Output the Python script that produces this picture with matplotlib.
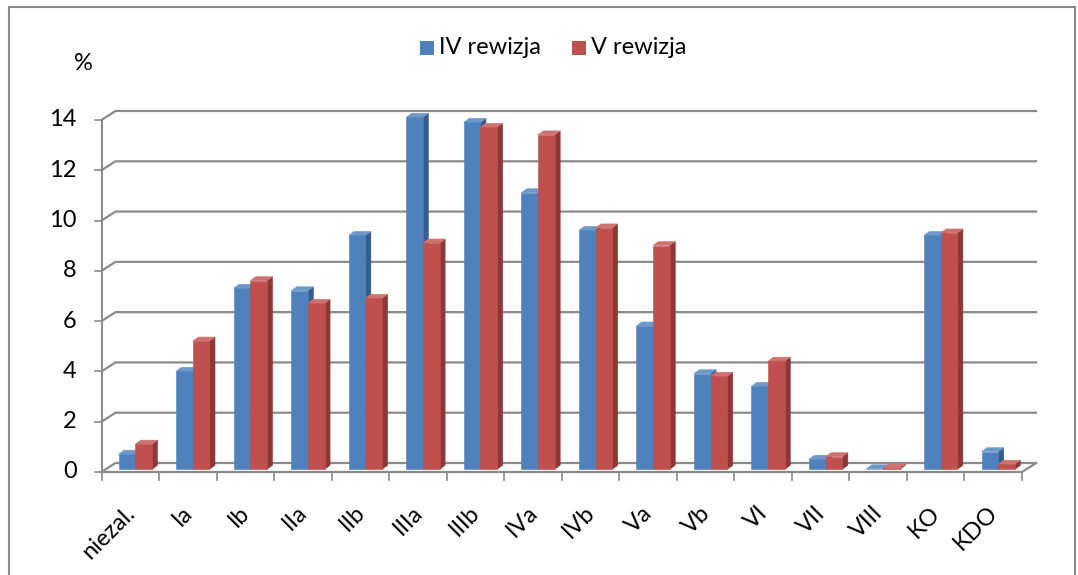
import matplotlib
matplotlib.use("Agg")
import numpy as np
import matplotlib.pyplot as plt
from matplotlib.patches import Polygon, Rectangle

plt.rcParams["font.family"] = ["Lato", "DejaVu Sans"]

categories = ["niezal.", "Ia", "Ib", "IIa", "IIb", "IIIa", "IIIb", "IVa",
              "IVb", "Va", "Vb", "VI", "VII", "VIII", "KO", "KDO"]
rew_iv = [0.6, 3.9, 7.2, 7.1, 9.3, 14.0, 13.8, 11.0,
          9.5, 5.7, 3.8, 3.3, 0.4, 0.02, 9.3, 0.7]
rew_v = [1.0, 5.1, 7.5, 6.6, 6.8, 9.0, 13.6, 13.3,
         9.6, 8.9, 3.7, 4.3, 0.5, 0.05, 9.4, 0.2]
series_names = ["IV rewizja", "V rewizja"]
yticks = [0, 2, 4, 6, 8, 10, 12, 14]

W, H = 1078, 575
fig = plt.figure(figsize=(W / 100, H / 100), dpi=100)


def fx(px):
    return px / W


def fy(py):
    return 1 - py / H


# axes: front x axis 101.5..1022 px, y 0 at 472 px, 14 at 120 px
x0px, x1px, y0px, y1px = 101.5, 1022, 472, 120
ax = fig.add_axes([fx(x0px), fy(y0px), fx(x1px) - fx(x0px), fy(y1px) - fy(y0px)])
n = len(categories)
ax.set_xlim(-0.5, n - 0.5)
ax.set_ylim(0, 14)
ax.axis("off")

cx = (x1px - x0px) / n   # px per category
cy = (y0px - y1px) / 14  # px per unit
DX, DY = 14 / cx, 9 / cy   # wall depth
grid_c = "#8a8a8a"

# gridlines on side and back wall
for v in yticks:
    ax.plot([-0.5, -0.5 + DX, n - 0.5 + DX], [v, v + DY, v + DY],
            color=grid_c, lw=1.6, clip_on=False, zorder=1)
    ax.plot([-0.5 - 7 / cx, -0.5], [v, v], color=grid_c, lw=1.2, clip_on=False)
    ax.text(-0.5 - 25 / cx, v, str(v), ha="right", va="center", fontsize=17,
            color="black")

# floor front edge and right side
ax.plot([-0.5, n - 0.5, n - 0.5 + DX], [0, 0, DY], color=grid_c, lw=1.6,
        clip_on=False, zorder=1)
ax.plot([-0.5, -0.5], [0, 14], color=grid_c, lw=1.4, clip_on=False, zorder=1)
for k in range(n + 1):
    ax.plot([k - 0.5, k - 0.5], [0, -8 / cy], color=grid_c, lw=1.2, clip_on=False)

# bars with fake depth
bw = 16.7 / cx
bdx, bdy = 5.5 / cx, 4 / cy
sx, by = 5 / cx, 2.7 / cy
colors = [("#4F81BD", "#385D8A", "#6E97CA"), ("#C0504D", "#8C3836", "#CF716E")]


def bar3d(x0, v, cols):
    front, side, top = cols
    ax.add_patch(Polygon([(x0 + bw, by), (x0 + bw + bdx, by + bdy),
                          (x0 + bw + bdx, by + v + bdy), (x0 + bw, by + v)],
                         closed=True, fc=side, ec=side, lw=0.4, zorder=3,
                         clip_on=False))
    ax.add_patch(Polygon([(x0, by + v), (x0 + bdx, by + v + bdy),
                          (x0 + bw + bdx, by + v + bdy), (x0 + bw, by + v)],
                         closed=True, fc=top, ec=top, lw=0.4, zorder=3,
                         clip_on=False))
    ax.add_patch(Rectangle((x0, by), bw, v, fc=front, ec=front, lw=0.4,
                           zorder=4, clip_on=False))


for i in range(n):
    bar3d(i - bw + sx, rew_iv[i], colors[0])
    bar3d(i + sx, rew_v[i], colors[1])
    ax.text(i + 0.15, -30 / cy, categories[i], rotation=45, ha="right",
            va="top", fontsize=17)

# legend
for j, (name, xpx) in enumerate(zip(series_names, [420, 572])):
    fig.add_artist(Rectangle((fx(xpx), fy(55)), fx(14), 14 / H,
                             transform=fig.transFigure, fc=colors[j][0], ec="none"))
    fig.text(fx(xpx + 19), fy(47), name, ha="left", va="center", fontsize=17)

fig.text(fx(83), fy(64), "%", ha="center", va="center", fontsize=17)

# outer chart border
fig.add_artist(Rectangle((fx(9), -0.05), fx(1066), fy(7) + 0.05,
                         transform=fig.transFigure, fc="none", ec="#8c8c8c",
                         lw=1.5))

fig.savefig("out.png", dpi=100)
